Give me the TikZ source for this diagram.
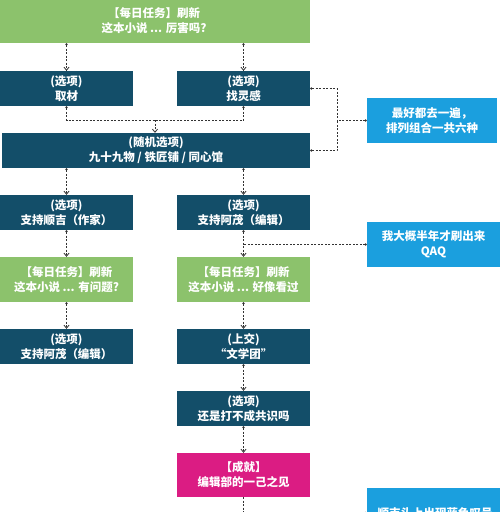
\documentclass[tikz,border=0pt]{standalone}
\usepackage{fontspec}
\setmainfont{Noto Sans CJK SC}
\usetikzlibrary{arrows.meta}
\definecolor{dk}{HTML}{134E69}
\definecolor{gr}{HTML}{8CC26C}
\definecolor{bl}{HTML}{1B9FDE}
\definecolor{pk}{HTML}{DB1C83}
\definecolor{ln}{HTML}{333333}
\tikzset{
  box/.style={rectangle, inner sep=0pt, text=white, align=center,
    font=\fontsize{11.5}{15}\selectfont\bfseries},
  dbox/.style={box, fill=dk, minimum width=133pt, minimum height=35pt},
  gbox/.style={box, fill=gr, minimum width=133pt, minimum height=45pt},
  nbox/.style={box, fill=bl, minimum width=133pt, minimum height=45pt},
  conn/.style={draw=ln, line width=0.8pt, dash pattern=on 2pt off 1.5pt},
  arr/.style={conn, {Circle[length=2.2pt]}-{Straight Barb[length=3pt,width=5pt]}},
  dot/.style={conn, {Circle[length=2.2pt]}-},
}
\begin{document}
\begin{tikzpicture}[x=1pt,y=-1pt]
\useasboundingbox (0,0) rectangle (500,512);
\clip (0,0) rectangle (500,512);
\fill[white] (0,0) rectangle (500,512);
% nodes
\node[box, fill=gr, minimum width=312pt, minimum height=45pt] (top) at (154,20.5) {【每日任务】刷新\\这本小说 ... 厉害吗?};
\node[dbox] (qc) at (66.5,88.5) {(选项)\\取材};
\node[dbox] (ling) at (243.5,88.5) {(选项)\\找灵感};
\node[dbox, minimum width=308pt] (suiji) at (156,150.5) {(随机选项)\\九十九物 / 铁匠铺 / 同心馆};
\node[nbox, minimum width=130pt] (note1) at (432,120.5) {最好都去一遍，\\排列组合一共六种};
\node[dbox] (sj) at (66.5,212.5) {(选项)\\支持顺吉（作家）};
\node[dbox] (am1) at (243.5,212.5) {(选项)\\支持阿茂（编辑）};
\node[nbox] (note2) at (433.5,244.5) {我大概半年才刷出来\\QAQ};
\node[gbox] (g2) at (66.5,279.5) {【每日任务】刷新\\这本小说 ... 有问题?};
\node[gbox] (g3) at (243.5,279.5) {【每日任务】刷新\\这本小说 ... 好像看过};
\node[dbox] (am2) at (66.5,346.5) {(选项)\\支持阿茂（编辑）};
\node[dbox] (wxt) at (243.5,346.5) {(上交)\\“文学团”};
\node[dbox] (gs) at (243.5,408.5) {(选项)\\还是打不成共识吗};
\node[box, fill=pk, minimum width=133pt, minimum height=44pt] (cj) at (243.5,475) {【成就】\\编辑部的一己之见};
\node[box, fill=bl, minimum width=136pt, minimum height=50pt] (note3) at (435,513) {顺吉头上出现蓝色叹号};
% connectors
\draw[arr] (top.south -| qc.north) -- (qc.north);
\draw[arr] (top.south -| ling.north) -- (ling.north);
\coordinate (m) at (155,120);
\draw[dot] (qc.south) |- (m);
\draw[dot] (ling.south) |- (m);
\draw[conn, -{Straight Barb[length=3pt,width=5pt]}] (m) -- (suiji.north -| m);
\coordinate (j1) at (337,120.5);
\draw[dot] (ling.east) -| (j1);
\draw[dot] (suiji.east) -| (j1);
\draw[dot] (note1.west) -- (j1);
\draw[arr] (suiji.south -| sj.north) -- (sj.north);
\draw[arr] (suiji.south -| am1.north) -- (am1.north);
\draw[arr] (sj.south) -- (g2.north);
\draw[arr] (g2.south) -- (am2.north);
\draw[arr] (am1.south) -- (g3.north);
\draw[dot] (note2.west) -- (note2.west -| am1.south);
\draw[arr] (g3.south) -- (wxt.north);
\draw[arr] (wxt.south) -- (gs.north);
\draw[arr] (gs.south) -- (cj.north);
\draw[conn, -{Circle[length=2.2pt]}] (cj.south) |- (note3.west);
\end{tikzpicture}
\end{document}
